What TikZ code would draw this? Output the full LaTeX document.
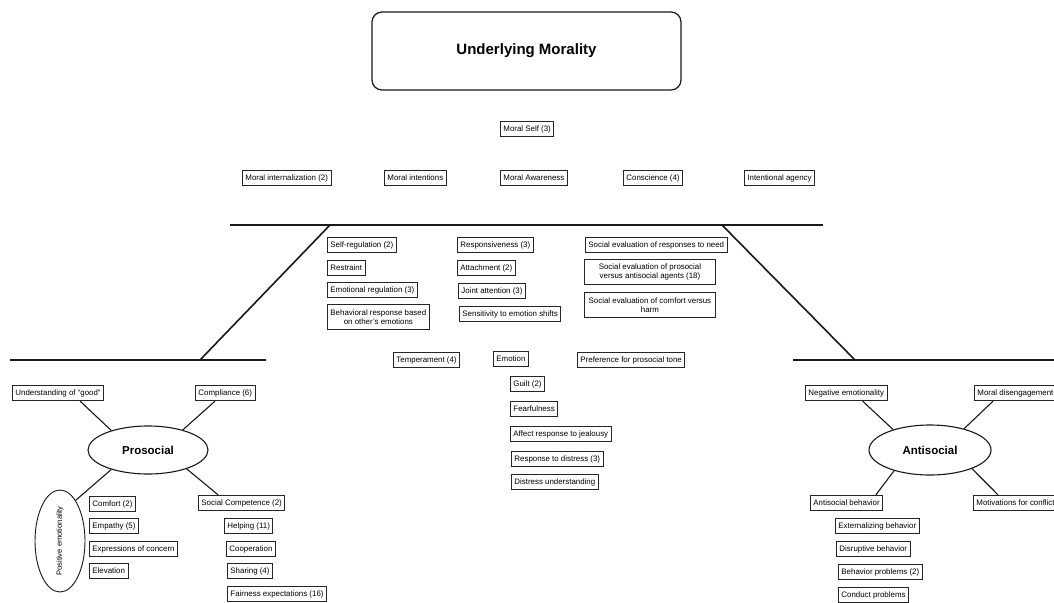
\documentclass[tikz,border=0pt]{standalone}
\usepackage{fontspec}
\setmainfont{Liberation Sans}
\usetikzlibrary{shapes.geometric,calc}
\begin{document}
\begin{tikzpicture}[x=1pt,y=-1pt,
  box/.style={draw=black!85, line width=0.9pt, inner xsep=3pt, inner ysep=2pt,
    minimum height=15.5pt, font=\fontsize{7.9}{9.5}\selectfont, anchor=west, align=center},
  tallbox/.style={box, minimum height=25pt},
  oval/.style={draw=black!90, ellipse, line width=1.1pt, inner sep=0pt},
  link/.style={line width=1.1pt, draw=black!90},
  frameline/.style={line width=1.6pt, draw=black!90}]
\useasboundingbox (0,0) rectangle (1054,602);

% title
\node[draw=black!90, line width=1.2pt, rounded corners=10pt, minimum width=309pt,
  minimum height=78pt, font=\fontsize{15}{18}\selectfont\bfseries] (title) at (526.5,51) {Underlying Morality};

% top row
\node[box] (mself) at (500,129) {Moral Self (3)};
\node[box] (minter) at (242,178) {Moral internalization (2)};
\node[box] (mintent) at (384,178) {Moral intentions};
\node[box] (maware) at (500,178) {Moral Awareness};
\node[box] (consc) at (623,178) {Conscience (4)};
\node[box] (agency) at (744,178) {Intentional agency};

% frame lines
\coordinate (t1) at (230,225);
\coordinate (t2) at (823,225);
\coordinate (dl1) at (330,225);
\coordinate (dl2) at (200,360);
\coordinate (dr1) at (722,225);
\coordinate (dr2) at (855,360);
\coordinate (l1) at (10,360);
\coordinate (l2) at (266,360);
\coordinate (r1) at (793,360);
\coordinate (r2) at (1054,360);
\draw[frameline] (t1) -- (t2);
\draw[frameline] (dl1) -- (dl2);
\draw[frameline] (dr1) -- (dr2);
\draw[frameline] (l1) -- (l2);
\draw[frameline] (r1) -- (r2);

% middle columns
\node[box] (selfreg) at (327,245) {Self-regulation (2)};
\node[box] (restr) at (327,268) {Restraint};
\node[box] (emoreg) at (327,290) {Emotional regulation (3)};
\node[tallbox] (behresp) at (327,317) {Behavioral response based\\on other's emotions};
\node[box] (respons) at (457,245) {Responsiveness (3)};
\node[box] (attach) at (457,268) {Attachment (2)};
\node[box] (joint) at (458,291) {Joint attention (3)};
\node[box] (sensit) at (459,314) {Sensitivity to emotion shifts};
\node[box] (sneed) at (585,245) {Social evaluation of responses to need};
\node[tallbox, minimum width=131pt] (sagents) at (584,272) {Social evaluation of prosocial\\versus antisocial agents (18)};
\node[tallbox, minimum width=131pt] (sharm) at (584,305) {Social evaluation of comfort versus\\harm};

\node[box] (temper) at (393,360) {Temperament (4)};
\node[box] (emotion) at (493,359) {Emotion};
\node[box] (prefer) at (577,360) {Preference for prosocial tone};
\node[box] (guilt) at (510,384) {Guilt (2)};
\node[box] (fear) at (510,409) {Fearfulness};
\node[box] (jeal) at (510,434) {Affect response to jealousy};
\node[box] (respdis) at (511,459) {Response to distress (3)};
\node[box] (disund) at (511,482) {Distress understanding};

% prosocial
\node[oval, minimum width=120pt, minimum height=48pt, font=\fontsize{11.5}{14}\selectfont\bfseries] (pro) at (148,450) {Prosocial};
\node[box] (good) at (12,393) {Understanding of ``good''};
\node[box] (compl) at (195,393) {Compliance (6)};
\node[oval, line width=0.9pt, minimum width=50pt, minimum height=102pt] (posemo) at (60,541) {};
\node[rotate=90, font=\fontsize{7.6}{9}\selectfont] (posemotxt) at (posemo.center) {Positive emotionality};
\node[box] (socomp) at (198,503) {Social Competence (2)};
\node[box] (comfort) at (89,504) {Comfort (2)};
\node[box] (empathy) at (89,526) {Empathy (5)};
\node[box] (concern) at (89,549) {Expressions of concern};
\node[box] (elev) at (89,571) {Elevation};
\node[box] (helping) at (224,526) {Helping (11)};
\node[box] (coop) at (226,549) {Cooperation};
\node[box] (sharing) at (227,571) {Sharing (4)};
\node[box] (fair) at (227,594) {Fairness expectations (16)};

\draw[link] ($(good.south west)!0.74!(good.south east)$) -- (pro.152);
\draw[link] ($(compl.south west)!0.33!(compl.south east)$) -- (pro.30);
\draw[link] (posemo.69) -- (pro.208);
\draw[link] ($(socomp.north west)!0.23!(socomp.north east)$) -- (pro.334);

% antisocial
\node[oval, minimum width=122pt, minimum height=50pt, font=\fontsize{11.5}{14}\selectfont\bfseries] (anti) at (930,450) {Antisocial};
\node[box] (negemo) at (805,393) {Negative emotionality};
\node[box] (disen) at (974,393) {Moral disengagement};
\node[box] (antibeh) at (810,503) {Antisocial behavior};
\node[box] (motiv) at (973,503) {Motivations for conflict};
\node[box] (extern) at (835,526) {Externalizing behavior};
\node[box] (disrupt) at (836,549) {Disruptive behavior};
\node[box] (behprob) at (838,572) {Behavior problems (2)};
\node[box] (conduct) at (838,595) {Conduct problems};

\draw[link] ($(negemo.south west)!0.7!(negemo.south east)$) -- (anti.151);
\draw[link] ($(disen.south west)+(19,0)$) -- (anti.32);
\draw[link] ($(antibeh.north west)!0.9!(antibeh.north east)$) -- (anti.210);
\draw[link] ($(motiv.north west)+(25,0)$) -- (anti.336);
\end{tikzpicture}
\end{document}
